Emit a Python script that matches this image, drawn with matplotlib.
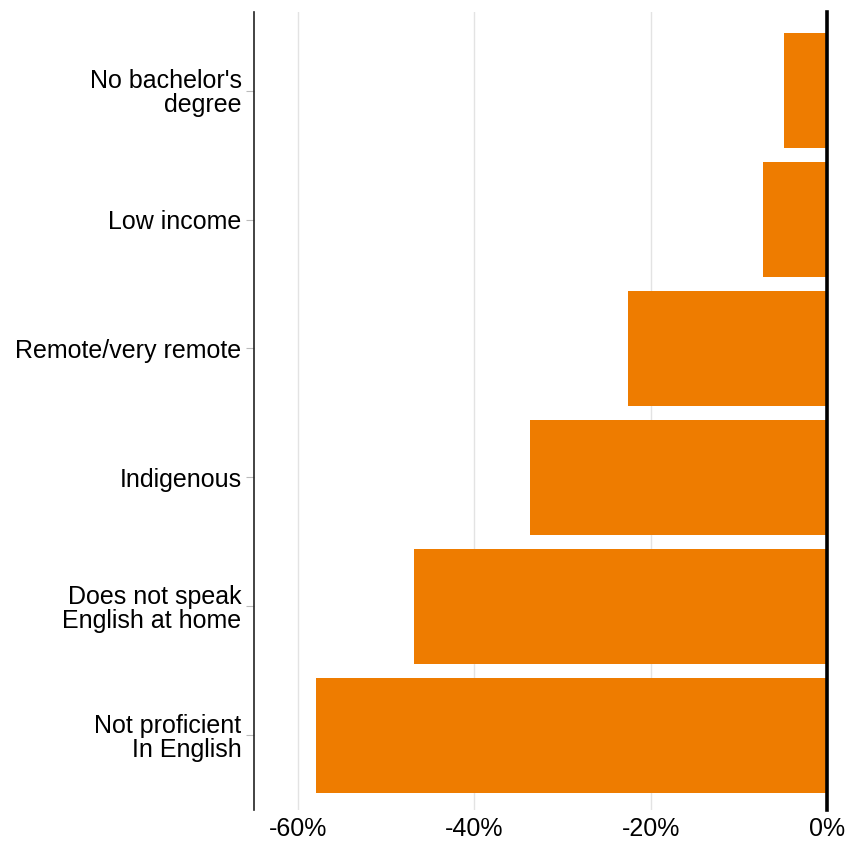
import matplotlib
matplotlib.use("Agg")
import matplotlib.pyplot as plt

plt.rcParams['font.family'] = ['Liberation Sans', 'DejaVu Sans']

categories = ["Not proficient\nIn English", "Does not speak\nEnglish at home", "Indigenous",
              "Remote/very remote", "Low income", "No bachelor's\ndegree"]
values = [-58.0, -46.9, -33.7, -22.6, -7.3, -4.9]
xticks = [-60, -40, -20, 0]
xtick_labels = ["-60%", "-40%", "-20%", "0%"]

fig = plt.figure(figsize=(8.47, 8.41), dpi=100)
ax = fig.add_axes([254/847, 1 - 810/841, (827 - 254)/847, (810 - 12)/841])

ypos = list(range(len(categories)))
ax.barh(ypos, values, height=0.89, color="#EE7C00", zorder=2)
ax.axvline(0, color="black", linewidth=2.6, zorder=3, clip_on=False)

ax.set_xlim(-65, 0)
ax.set_ylim(-0.58, 5.61)
ax.set_xticks(xticks)
ax.set_xticklabels(xtick_labels, fontsize=18)
ax.set_yticks(ypos)
ax.set_yticklabels(categories, fontsize=18, ha="right", multialignment="right",
                   linespacing=1.0)

ax.grid(axis="x", color="#e3e3e3", linewidth=1, zorder=0)
ax.tick_params(axis="x", length=0, pad=5)
ax.tick_params(axis="y", length=6, width=0.8, color="#bbbbbb", pad=3)

for s in ["top", "right", "bottom"]:
    ax.spines[s].set_visible(False)
ax.spines["left"].set_linewidth(1.2)
ax.spines["left"].set_color("#222222")

fig.savefig("out.png", dpi=100)
